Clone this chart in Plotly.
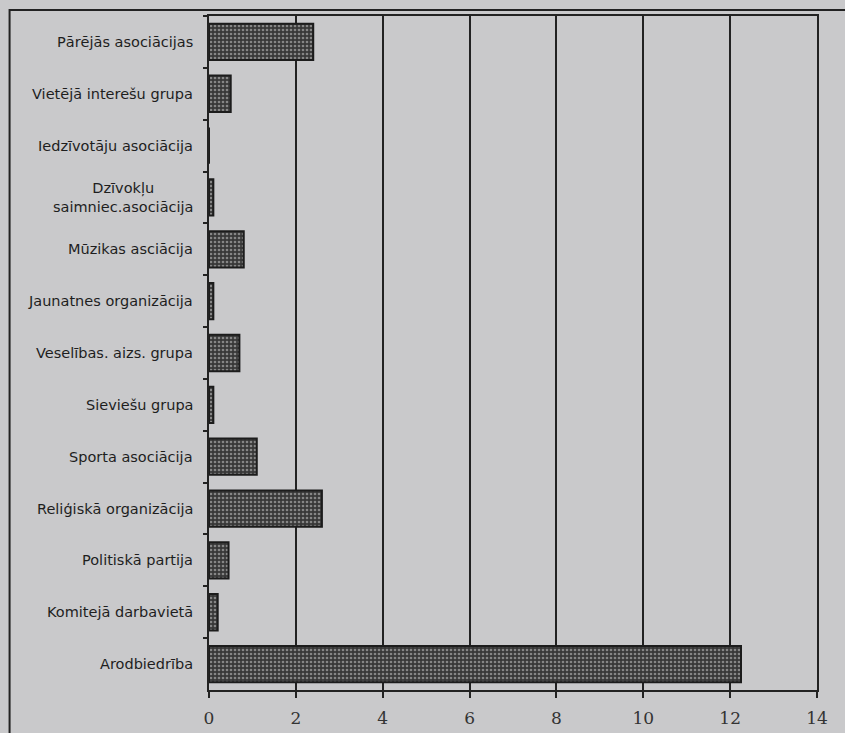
import plotly.graph_objects as go

categories = [
    "Pārējās asociācijas",
    "Vietējā interešu grupa",
    "Iedzīvotāju asociācija",
    "Dzīvokļu<br>saimniec.asociācija",
    "Mūzikas asciācija",
    "Jaunatnes organizācija",
    "Veselības. aizs. grupa",
    "Sieviešu grupa",
    "Sporta asociācija",
    "Reliģiskā organizācija",
    "Politiskā partija",
    "Komitejā darbavietā",
    "Arodbiedrība",
]
values = [2.4, 0.5, 0.0, 0.1, 0.8, 0.1, 0.7, 0.1, 1.1, 2.6, 0.45, 0.2, 12.25]
x_ticks = [0, 2, 4, 6, 8, 10, 12, 14]

BG = "#c9c9cb"
INK = "#222222"

fig = go.Figure()
fig.add_trace(go.Bar(
    y=categories,
    x=values,
    orientation="h",
    width=0.7,
    marker=dict(
        color="#3a3a3a",
        pattern=dict(shape=".", fgcolor="#d4d4d4", bgcolor="#383838", size=4, solidity=0.35),
        line=dict(color="#1c1c1c", width=2),
    ),
    hoverinfo="x+y",
))

for cat in categories:
    fig.add_annotation(
        x=0, xref="paper", y=cat, yref="y",
        text=cat, showarrow=False, xanchor="right", yanchor="middle",
        xshift=-14, align="center",
        font=dict(family="DejaVu Sans", size=14.5, color="#1e1e1e"),
    )

# outer page frame
fig.add_shape(type="rect", xref="paper", yref="paper",
              x0=-0.328, x1=1.2, y0=-0.2, y1=1.009,
              line=dict(color=INK, width=2), layer="below")

fig.update_layout(
    width=845, height=733,
    margin=dict(l=209, r=28, t=16, b=43, autoexpand=False),
    paper_bgcolor=BG, plot_bgcolor=BG,
    showlegend=False,
    bargap=0.3,
    xaxis=dict(
        range=[0, 14], tickvals=x_ticks, ticktext=[str(v) for v in x_ticks],
        showgrid=True, gridcolor=INK, gridwidth=2,
        showline=True, linecolor=INK, linewidth=2, mirror=True,
        ticks="outside", ticklen=6, tickwidth=2, tickcolor=INK,
        ticklabelstandoff=6, automargin=False,
        zeroline=False,
        tickfont=dict(family="DejaVu Serif", size=17, color="#333333"),
    ),
    yaxis=dict(
        categoryorder="array", categoryarray=categories,
        autorange="reversed", automargin=False,
        showticklabels=False,
        showline=True, linecolor=INK, linewidth=2, mirror=True,
        ticks="outside", ticklen=4, tickwidth=2, tickcolor=INK,
        tickson="boundaries",
        showgrid=False, zeroline=False,
    ),
)

fig.write_html(
    "out.html",
    config={"displayModeBar": False},
    post_script="document.body.style.margin='0';document.body.style.background='" + BG + "';document.body.style.overflow='hidden';",
)
